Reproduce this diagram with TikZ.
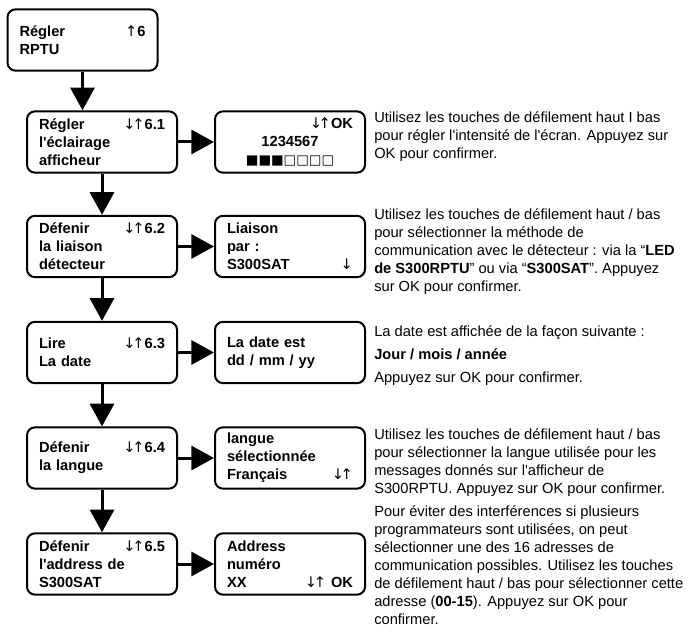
\documentclass[tikz,border=0pt]{standalone}
\usepackage{fontspec}
\setmainfont{Liberation Sans}[Ligatures=TeXOff]
\newfontfamily\arrowfont{DejaVu Sans}
\usetikzlibrary{arrows.meta,positioning}

\newcommand{\menuline}[2]{\makebox[\linewidth][l]{#1\hfill#2}}
\newcommand{\ud}[1]{{\arrowfont\mdseries #1}}
\newcommand{\updown}{\ud{↓\kern-2.5pt↑}}

\begin{document}
\begin{tikzpicture}[x=0.75pt,y=-0.75pt,
  menubox/.style={draw,line width=1.5pt,rounded corners=6pt,minimum width=112.5pt,minimum height=46pt,
    inner xsep=9pt,inner ysep=0pt,text width=94.5pt,align=left,font=\bfseries\fontsize{11}{13.5}\selectfont},
  flow/.style={-{Triangle[length=17pt,width=18pt]},line width=2.25pt},
  note/.style={anchor=north west,align=left,inner sep=0pt,font=\fontsize{11}{13.5}\selectfont}]
  \useasboundingbox (0,0) rectangle (688,641);

  % menu on the left
  \node[menubox] (top) at (82.5,40) {\menuline{Régler}{\ud{↑}6}\\RPTU};
  \node[menubox] (l1) at (102,142) {\menuline{Régler}{\updown6.1}\\l'éclairage\\afficheur};
  \node[menubox] (l2) at (102,246.5) {\menuline{Défenir}{\updown6.2}\\la liaison\\détecteur};
  \node[menubox] (l3) at (102,352.5) {\menuline{Lire}{\updown6.3}\\La date};
  \node[menubox] (l4) at (102,458) {\menuline{Défenir}{\updown6.4}\\la langue};
  \node[menubox] (l5) at (102,564) {\menuline{Défenir}{\updown6.5}\\l'address de\\S300SAT};

  % displays
  \node[menubox,align=center,right=27pt of l1] (r1) {\makebox[\linewidth][r]{\updown OK}\\1234567\\
    {\arrowfont\fontsize{10}{13.5}\selectfont ■■■□□□□}};
  \node[menubox,right=27pt of l2] (r2) {Liaison\\par :\\\menuline{S300SAT}{\ud{↓}}};
  \node[menubox,right=27pt of l3] (r3) {La date est\\dd / mm / yy};
  \node[menubox,right=27pt of l4] (r4) {langue\\sélectionnée\\\menuline{Français}{\updown}};
  \node[menubox,right=27pt of l5] (r5) {Address\\numéro\\\menuline{XX}{\updown\ OK}};

  \draw[flow] (top.south) -- (top.south |- l1.north);
  \foreach \a/\b in {l1/l2,l2/l3,l3/l4,l4/l5}
    \draw[flow] (\a.south) -- (\b.north);
  \foreach \i in {1,...,5}
    \draw[flow] (l\i.east) -- (r\i.west);

  % explanations
  \node[note] (t1) at (374,111) {Utilisez les touches de défilement haut I bas\\
    pour régler l'intensité de l'écran. Appuyez sur\\OK pour confirmer.};
  \node[note] (t2) at (374,208) {Utilisez les touches de défilement haut / bas\\
    pour sélectionner la méthode de\\
    communication avec le détecteur : via la “\textbf{LED}\\
    \textbf{de S300RPTU}” ou via “\textbf{S300SAT}”. Appuyez\\
    sur OK pour confirmer.};
  \node[note] (t3) at (374,325) {La date est affichée de la façon suivante :\\[3.75pt]
    \textbf{Jour / mois / année}\\[3.75pt]
    Appuyez sur OK pour confirmer.};
  \node[note] (t4) at (374,428) {Utilisez les touches de défilement haut / bas\\
    pour sélectionner la langue utilisée pour les\\
    messages donnés sur l'afficheur de\\
    S300RPTU. Appuyez sur OK pour confirmer.};
  \node[note] (t5) at (374,505) {Pour éviter des interférences si plusieurs\\
    programmateurs sont utilisées, on peut\\
    sélectionner une des 16 adresses de\\
    communication possibles. Utilisez les touches\\
    de défilement haut / bas pour sélectionner cette\\
    adresse (\textbf{00-15}). Appuyez sur OK pour\\
    confirmer.};
\end{tikzpicture}
\end{document}
